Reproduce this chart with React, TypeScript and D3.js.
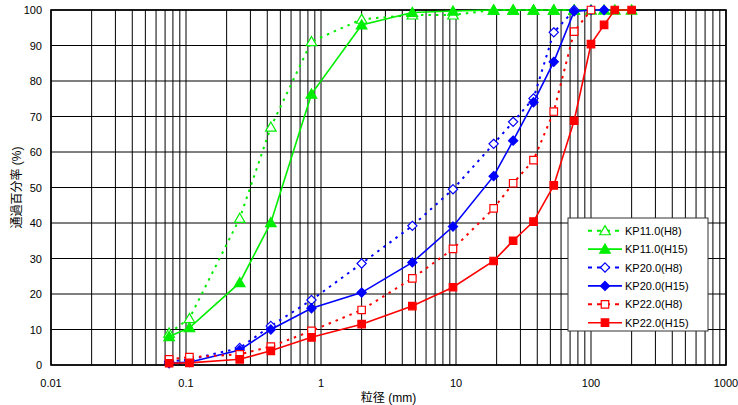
import React from "react";
import * as d3 from "d3";

const W = 738;
const H = 405;

const sizesH8 = [0.075, 0.106, 0.25, 0.425, 0.85, 2, 4.75, 9.5, 19, 26.5, 37.5, 53, 75];
const sizesH8Red = [0.075, 0.106, 0.25, 0.425, 0.85, 2, 4.75, 9.5, 19, 26.5, 37.5, 53, 75, 100];
const sizesH15 = [0.075, 0.106, 0.25, 0.425, 0.85, 2, 4.75, 9.5, 19, 26.5, 37.5, 53, 75, 100, 125, 150, 200];

const kp11H8 = [9.0, 13.1, 41.3, 67.0, 91.1, 97.4, 98.6, 98.6, 100, 100, 100, 100, 100];
const kp11H15 = [8.0, 10.5, 23.2, 40.1, 76.3, 95.8, 99.3, 99.7, 100, 100, 100, 100, 100, 100, 100, 100, 100];
const kp20H8 = [1.0, 1.5, 4.8, 11.0, 18.3, 28.6, 39.2, 49.5, 62.3, 68.5, 75.1, 93.7, 100];
const kp20H15 = [0.5, 0.8, 4.2, 10.0, 16.0, 20.4, 28.9, 39.0, 53.2, 63.2, 74.0, 85.4, 99.6, 100, 100];
const kp22H8 = [1.6, 2.2, 3.0, 5.2, 9.6, 15.5, 24.4, 32.7, 44.1, 51.2, 57.7, 71.4, 93.9, 100];
const kp22H15 = [0.5, 0.6, 1.6, 4.0, 7.8, 11.5, 16.6, 21.9, 29.3, 35.0, 40.4, 50.6, 68.8, 90.4, 95.8, 100, 100];

const yTicks = [0, 10, 20, 30, 40, 50, 60, 70, 80, 90, 100];
const xTicks = [0.01, 0.1, 1, 10, 100, 1000];
const xTickLabels = ["0.01", "0.1", "1", "10", "100", "1000"];

type Series = {
  name: string;
  x: number[];
  y: number[];
  color: string;
  dashed: boolean;
  marker: "triangle" | "diamond" | "square";
  filled: boolean;
};

const series: Series[] = [
  { name: "KP11.0(H8)", x: sizesH8, y: kp11H8, color: "#00ee00", dashed: true, marker: "triangle", filled: false },
  { name: "KP11.0(H15)", x: sizesH15, y: kp11H15, color: "#00ee00", dashed: false, marker: "triangle", filled: true },
  { name: "KP20.0(H8)", x: sizesH8, y: kp20H8, color: "#0000ff", dashed: true, marker: "diamond", filled: false },
  { name: "KP20.0(H15)", x: sizesH15.slice(0, 15), y: kp20H15, color: "#0000ff", dashed: false, marker: "diamond", filled: true },
  { name: "KP22.0(H8)", x: sizesH8Red, y: kp22H8, color: "#ff0000", dashed: true, marker: "square", filled: false },
  { name: "KP22.0(H15)", x: sizesH15, y: kp22H15, color: "#ff0000", dashed: false, marker: "square", filled: true },
];

const left = 51;
const right = 726;
const top = 10;
const bottom = 365;

const xScale = d3.scaleLog().domain([0.01, 1000]).range([left, right]);
const yScale = d3.scaleLinear().domain([0, 100]).range([bottom, top]);

function markerPath(m: string): string {
  if (m === "diamond") {
    const r = 4.6;
    return `M0,${-r}L${r},0L0,${r}L${-r},0Z`;
  }
  const sym = m === "triangle" ? d3.symbolTriangle : d3.symbolSquare;
  const size = m === "triangle" ? 48 : 56;
  return d3.symbol().type(sym).size(size)() as string;
}

function Marker({ s, cx, cy }: { s: Series; cx: number; cy: number }) {
  const dy = s.marker === "triangle" ? 1 : 0;
  return (
    <path
      d={markerPath(s.marker)}
      transform={`translate(${cx},${cy + dy})`}
      fill={s.filled ? s.color : "white"}
      stroke={s.color}
      strokeWidth={1.2}
    />
  );
}

export default function App() {
  const minorX: number[] = [];
  for (let e = -2; e < 3; e++) {
    for (let k = 1; k <= 9; k++) minorX.push(k * Math.pow(10, e));
  }
  minorX.push(1000);

  const line = d3
    .line<[number, number]>()
    .x((d) => xScale(d[0]))
    .y((d) => yScale(d[1]));

  const legendX = 568;
  const legendY = 218;
  const rowH = 18.4;

  return (
    <svg width={W} height={H} style={{ position: "absolute", left: 0, top: 0, background: "white" }}>
      <rect x={0} y={0} width={W} height={H} fill="white" />
      {minorX.map((v, i) => (
        <line key={"gx" + i} x1={xScale(v)} x2={xScale(v)} y1={top} y2={bottom} stroke="#000" strokeWidth={1} />
      ))}
      {yTicks.map((v) => (
        <line key={"gy" + v} x1={left} x2={right} y1={yScale(v)} y2={yScale(v)} stroke="#000" strokeWidth={1} />
      ))}
      <rect x={left} y={top} width={right - left} height={bottom - top} fill="none" stroke="#000" strokeWidth={1.6} />

      {yTicks.map((v) => (
        <text
          key={"yl" + v}
          x={42}
          y={yScale(v) + 4}
          textAnchor="end"
          fontFamily="Liberation Sans, Arial, sans-serif"
          fontSize={11}
          fill="#000"
        >
          {v}
        </text>
      ))}
      {xTicks.map((v, i) => (
        <text
          key={"xl" + v}
          x={xScale(v)}
          y={387}
          textAnchor="middle"
          fontFamily="Liberation Sans, Arial, sans-serif"
          fontSize={11}
          fill="#000"
        >
          {xTickLabels[i]}
        </text>
      ))}

      <text
        x={(left + right) / 2}
        y={402}
        textAnchor="middle"
        fontFamily="Liberation Sans, 'Noto Sans CJK JP', sans-serif"
        fontSize={12}
        fill="#000"
      >
        <tspan fontFamily="'Noto Sans CJK JP', sans-serif">粒径</tspan> (mm)
      </text>
      <text
        transform={`translate(21,${(top + bottom) / 2}) rotate(-90)`}
        textAnchor="middle"
        fontFamily="Liberation Sans, 'Noto Sans CJK JP', sans-serif"
        fontSize={12}
        fill="#000"
      >
        <tspan fontFamily="'Noto Sans CJK JP', sans-serif">通過百分率</tspan> (%)
      </text>

      {series.map((s, si) => {
        const pts: [number, number][] = s.x.map((x, i) => [x, s.y[i]]);
        return (
          <g key={"s" + si}>
            <path
              d={line(pts) as string}
              fill="none"
              stroke={s.color}
              strokeWidth={s.dashed ? 2 : 1.6}
              strokeDasharray={s.dashed ? "2.5,5" : undefined}
            />
            {pts.map((p, i) => (
              <Marker key={i} s={s} cx={xScale(p[0])} cy={yScale(p[1])} />
            ))}
          </g>
        );
      })}

      <rect x={legendX} y={legendY} width={140} height={113} fill="white" stroke="#333" strokeWidth={1} />
      {series.map((s, i) => {
        const cy = legendY + 12.7 + i * rowH;
        return (
          <g key={"lg" + i}>
            <line
              x1={588}
              x2={622}
              y1={cy}
              y2={cy}
              stroke={s.color}
              strokeWidth={s.dashed ? 2 : 1.6}
              strokeDasharray={s.dashed ? "4,5" : undefined}
            />
            <Marker s={s} cx={605} cy={cy} />
            <text
              x={625}
              y={cy + 4}
              fontFamily="Liberation Sans, Arial, sans-serif"
              fontSize={11}
              fill="#000"
            >
              {s.name}
            </text>
          </g>
        );
      })}
    </svg>
  );
}
